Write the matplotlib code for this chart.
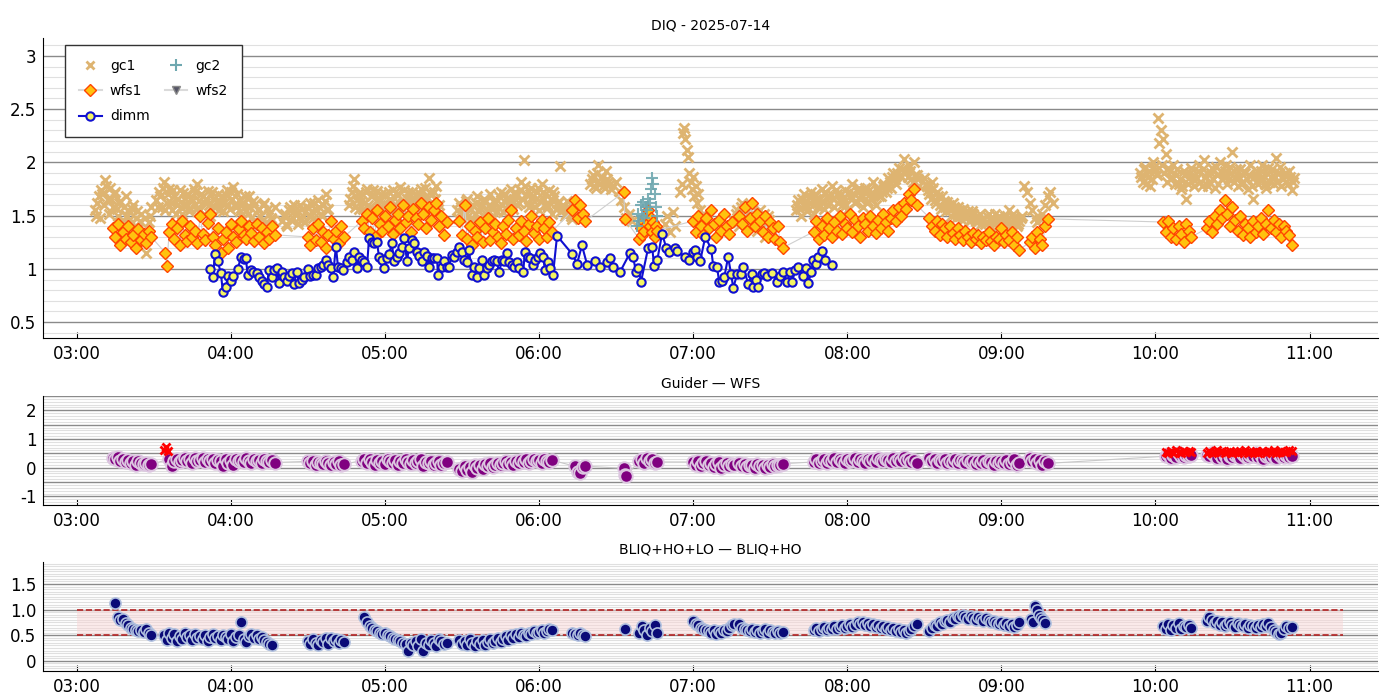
import datetime as dt
import matplotlib
matplotlib.use("Agg")
import matplotlib.pyplot as plt
import matplotlib.dates as mdates
from matplotlib.ticker import MultipleLocator, FuncFormatter
from matplotlib.lines import Line2D

# minutes after 03:00 UT, 2025-07-14
# each segment: (start minute, step minutes, values)
gc1_segs = [
    (7, 1, [1.55, 1.62, 1.48, 1.70, 1.83, 1.66, 1.76, 1.58, 1.72, 1.50, 1.64, 1.46, 1.68, 1.55, 1.42,
            1.60, 1.48, 1.38, 1.52, 1.35, 1.15, 1.44, 1.58]),
    (31, 1, [1.65, 1.72, 1.58, 1.82, 1.62, 1.75, 1.55, 1.68, 1.60, 1.74, 1.52, 1.66, 1.70, 1.57, 1.64,
             1.72, 1.80, 1.55, 1.68, 1.62, 1.73, 1.50, 1.66, 1.58, 1.70, 1.63, 1.54, 1.69, 1.60, 1.72,
             1.77, 1.58, 1.65, 1.50, 1.62, 1.55, 1.68, 1.48, 1.60, 1.42, 1.56, 1.45, 1.62, 1.40, 1.52,
             1.46, 1.58]),
    (80, 1, [1.45, 1.52, 1.40, 1.58, 1.48, 1.55, 1.42, 1.60, 1.50, 1.44, 1.57, 1.62, 1.48, 1.55, 1.65,
             1.52, 1.60, 1.70, 1.56]),
    (106, 1, [1.60, 1.72, 1.84, 1.65, 1.56, 1.70, 1.62, 1.75, 1.58, 1.68, 1.52, 1.73, 1.64, 1.57, 1.70,
              1.60, 1.66, 1.74, 1.55, 1.69, 1.77, 1.62, 1.58, 1.72, 1.65, 1.54, 1.70, 1.63, 1.75, 1.58,
              1.68, 1.85, 1.62, 1.72, 1.78, 1.60]),
    (148, 1, [1.55, 1.62, 1.48, 1.58, 1.66, 1.45, 1.60, 1.52, 1.68, 1.57, 1.50, 1.63, 1.55, 1.70, 1.48,
              1.62, 1.58, 1.72, 1.53, 1.66, 1.60, 1.75, 1.56, 1.68, 1.62, 1.82, 2.02, 1.70, 1.58, 1.76,
              1.64, 1.72, 1.55, 1.80, 1.66, 1.60, 1.74, 1.52, 1.68, 1.62, 1.97, 1.58, 1.50, 1.64, 1.55,
              1.47, 1.60]),
    (200, 1, [1.80, 1.88, 1.76, 1.98, 1.85, 1.78, 1.92, 1.82, 1.75]),
    (210, 1, [1.82, 1.73, 1.65, 1.58, 1.48, 1.52, 1.45]),
    (229, 1, [1.42, 1.50, 1.35, 1.53, 1.40]),
    (235, 0.5, [1.72, 1.80, 2.28, 2.32, 2.22, 2.12, 2.05, 1.90, 1.82, 1.75, 1.86, 1.68, 1.78, 1.62, 1.70,
                1.55, 1.50]),
    (256, 1, [1.45, 1.55, 1.40, 1.62, 1.50, 1.58, 1.42, 1.52, 1.48, 1.36, 1.55, 1.45, 1.30, 1.50, 1.40]),
    (280, 1, [1.55, 1.65, 1.50, 1.70, 1.58, 1.62, 1.72, 1.52, 1.66, 1.60, 1.75, 1.56, 1.68, 1.63, 1.78,
              1.58, 1.70, 1.65, 1.60, 1.74, 1.55, 1.68, 1.80, 1.62, 1.72, 1.66, 1.58, 1.76, 1.64, 1.70,
              1.82, 1.60, 1.73, 1.68, 1.78, 1.72, 1.85, 1.76, 1.90, 1.80, 1.95, 1.86, 2.03, 1.92, 1.98,
              1.84, 2.00, 1.88, 1.78]),
    (330, 1, [1.85, 1.78, 1.70, 1.82, 1.65, 1.72, 1.60, 1.68, 1.58, 1.63, 1.55, 1.62, 1.52, 1.58, 1.50,
              1.56, 1.48, 1.54, 1.46, 1.52, 1.45, 1.50, 1.42, 1.48, 1.44, 1.52, 1.40, 1.47, 1.43, 1.50,
              1.41, 1.46, 1.44, 1.55, 1.42, 1.48, 1.40, 1.45, 1.50]),
    (369, 1, [1.78, 1.72, 1.62, 1.55, 1.48, 1.44, 1.47, 1.52, 1.60, 1.68, 1.72, 1.62]),
    (414, 1, [1.90, 1.82, 1.96, 1.86, 1.78, 2.00, 1.92, 2.42, 2.30, 2.22, 2.08, 1.95, 1.84, 1.98, 1.88,
              1.80, 1.75, 1.92, 1.66, 1.85, 1.95, 1.78]),
    (436, 1, [1.85, 1.98, 1.78, 2.02, 1.90, 1.82, 1.95, 1.76, 1.88, 2.00, 1.84, 1.92, 1.80, 1.96, 2.10,
              1.86, 1.78, 1.94, 1.82, 1.90, 1.75, 1.98, 1.66, 1.88, 1.80, 1.92, 1.84, 1.76, 1.95, 1.86,
              1.80, 2.04, 1.90, 1.78, 1.88, 1.82, 1.92, 1.74, 1.85]),
]
# second, interleaved batch of gc1 frames (half a minute later)
gc1_segs_b = [
    (7.5, 1, [1.50, 1.68, 1.74, 1.60, 1.78, 1.52, 1.66, 1.70, 1.56, 1.62, 1.44, 1.58, 1.50, 1.46, 1.56,
              1.40, 1.54, 1.45, 1.30, 1.48, 1.32, 1.50]),
    (31.5, 1, [1.58, 1.68, 1.76, 1.55, 1.70, 1.62, 1.74, 1.52, 1.66, 1.58, 1.71, 1.60, 1.54, 1.67, 1.75,
               1.56, 1.64, 1.70, 1.52, 1.66, 1.60, 1.72, 1.58, 1.64, 1.55, 1.68, 1.62, 1.74, 1.56, 1.66,
               1.60, 1.70, 1.54, 1.62, 1.68, 1.52, 1.58, 1.64, 1.46, 1.55, 1.50, 1.60, 1.44, 1.56, 1.48]),
    (80.5, 1, [1.50, 1.42, 1.55, 1.46, 1.60, 1.52, 1.48, 1.56, 1.44, 1.58, 1.50, 1.54, 1.62, 1.46, 1.58,
               1.50, 1.64, 1.55]),
    (106.5, 1, [1.66, 1.78, 1.58, 1.70, 1.64, 1.56, 1.72, 1.60, 1.68, 1.74, 1.56, 1.66, 1.70, 1.62, 1.58,
                1.72, 1.64, 1.60, 1.70, 1.62, 1.56, 1.74, 1.66, 1.60, 1.72, 1.64, 1.58, 1.70, 1.62, 1.76,
                1.66, 1.72, 1.60, 1.66, 1.56]),
    (148.5, 1, [1.48, 1.58, 1.52, 1.64, 1.50, 1.56, 1.46, 1.62, 1.54, 1.60, 1.66, 1.52, 1.60, 1.56, 1.64,
                1.54, 1.68, 1.60, 1.70, 1.56, 1.66, 1.62, 1.72, 1.60, 1.74, 1.66, 1.78, 1.62, 1.70, 1.68,
                1.58, 1.76, 1.64, 1.72, 1.70, 1.58, 1.66, 1.72, 1.56, 1.62, 1.54, 1.60, 1.52, 1.58, 1.50,
                1.56]),
    (200.5, 1, [1.84, 1.78, 1.90, 1.80, 1.86, 1.76, 1.84, 1.80]),
    (256.5, 1, [1.52, 1.44, 1.58, 1.46, 1.55, 1.48, 1.60, 1.42, 1.50, 1.45, 1.38, 1.52, 1.44, 1.46]),
    (280.5, 1, [1.60, 1.56, 1.66, 1.62, 1.54, 1.68, 1.60, 1.70, 1.58, 1.66, 1.62, 1.72, 1.60, 1.70, 1.66,
                1.74, 1.62, 1.70, 1.66, 1.60, 1.72, 1.66, 1.70, 1.64, 1.76, 1.68, 1.72, 1.62, 1.74, 1.66,
                1.70, 1.76, 1.68, 1.72, 1.80, 1.76, 1.82, 1.86, 1.84, 1.90, 1.88, 1.94, 1.90, 1.86, 1.92,
                1.82, 1.88, 1.84]),
    (330.5, 1, [1.80, 1.74, 1.66, 1.76, 1.62, 1.68, 1.56, 1.64, 1.54, 1.60, 1.50, 1.58, 1.48, 1.55, 1.46,
                1.52, 1.50, 1.45, 1.54, 1.48, 1.44, 1.52, 1.46, 1.42, 1.50, 1.46, 1.44, 1.52, 1.45, 1.48,
                1.42, 1.50, 1.46, 1.44, 1.52, 1.45, 1.42, 1.48]),
    (414.5, 1, [1.86, 1.94, 1.80, 1.92, 1.84, 1.96, 1.88, 2.18, 1.98, 1.90, 1.82, 1.92, 1.86, 1.80, 1.94,
                1.84, 1.78, 1.88, 1.80, 1.90, 1.84]),
    (436.5, 1, [1.92, 1.82, 1.94, 1.86, 1.78, 1.90, 1.84, 1.96, 1.80, 1.92, 1.86, 1.98, 1.84, 1.90, 1.82,
                1.94, 1.86, 1.80, 1.92, 1.84, 1.88, 1.78, 1.86, 1.92, 1.84, 1.98, 1.80, 1.90, 1.82, 1.94,
                1.86, 1.82, 1.96, 1.84, 1.90, 1.80, 1.86, 1.82]),
]

gc2_segs = [
    (218, 0.5, [1.40, 1.52, 1.45, 1.60, 1.50, 1.63, 1.48, 1.58, 1.55, 1.66, 1.62, 1.75, 1.85, 1.80, 1.70,
                1.58, 1.50]),
]

wfs1_segs = [
    (14, 1, [1.38, 1.30, 1.42, 1.22, 1.35, 1.28, 1.40, 1.25, 1.32, 1.20, 1.37, 1.27, 1.33, 1.24, 1.36, 1.30]),
    (34.5, 0.5, [1.15, 1.03]),
    (36, 1, [1.35, 1.42, 1.28, 1.38, 1.22, 1.45, 1.32, 1.26, 1.40, 1.30, 1.36, 1.24, 1.50, 1.33, 1.27,
             1.43, 1.52, 1.30, 1.22, 1.38, 1.15, 1.28, 1.35, 1.20, 1.42, 1.30, 1.25, 1.37, 1.45, 1.32,
             1.28, 1.40, 1.34, 1.26, 1.42, 1.30, 1.38, 1.24, 1.35, 1.28, 1.40, 1.32]),
    (90, 1, [1.30, 1.22, 1.38, 1.27, 1.42, 1.25, 1.35, 1.20, 1.32, 1.45, 1.28, 1.36, 1.24, 1.40, 1.30]),
    (111, 1, [1.45, 1.38, 1.52, 1.35, 1.48, 1.30, 1.55, 1.42, 1.36, 1.50, 1.40, 1.58, 1.33, 1.46, 1.52,
              1.38, 1.60, 1.44, 1.50, 1.35, 1.56, 1.48, 1.42, 1.62, 1.52, 1.38, 1.58, 1.46, 1.55, 1.62,
              1.40, 1.50, 1.32, 1.44]),
    (149, 1, [1.45, 1.32, 1.60, 1.28, 1.40, 1.22, 1.36, 1.30, 1.44, 1.25, 1.38, 1.48, 1.27, 1.35, 1.42,
              1.30, 1.24, 1.40, 1.33, 1.46, 1.55, 1.28, 1.38, 1.32, 1.45, 1.36, 1.26, 1.42, 1.50, 1.34,
              1.40, 1.28, 1.46, 1.38, 1.30, 1.44, 1.35]),
    (193, 1, [1.55, 1.65, 1.48, 1.60, 1.52, 1.45]),
    (213, 0.4, [1.72, 1.47]),
    (219, 0.5, [1.28, 1.38, 1.32, 1.45, 1.36, 1.50, 1.42, 1.55, 1.40, 1.48, 1.35, 1.44, 1.30, 1.40, 1.36]),
    (240, 1, [1.45, 1.35, 1.50, 1.40, 1.32, 1.48, 1.38, 1.55, 1.42, 1.30, 1.46, 1.36, 1.52, 1.40, 1.33, 1.44]),
    (258, 1, [1.50, 1.42, 1.58, 1.36, 1.48, 1.62, 1.40, 1.52, 1.45, 1.35, 1.50, 1.30, 1.44, 1.38, 1.28,
              1.40, 1.25, 1.20]),
    (287, 1, [1.35, 1.45, 1.28, 1.40, 1.32, 1.48, 1.38, 1.30, 1.44, 1.36, 1.50, 1.33, 1.42, 1.38, 1.52,
              1.35, 1.46, 1.40, 1.30, 1.48, 1.42, 1.36, 1.50, 1.40, 1.34, 1.46, 1.38, 1.52, 1.44, 1.36,
              1.48, 1.55, 1.45, 1.58, 1.50, 1.62, 1.56, 1.70, 1.65, 1.75, 1.60]),
    (332, 1, [1.48, 1.40, 1.36, 1.45, 1.32, 1.42, 1.38, 1.30, 1.40, 1.34, 1.28, 1.38, 1.32, 1.27, 1.36,
              1.30, 1.25, 1.34, 1.28, 1.32, 1.24, 1.30, 1.27, 1.35, 1.26, 1.22, 1.30, 1.28, 1.38, 1.25,
              1.32, 1.27, 1.35, 1.22, 1.30, 1.18]),
    (371, 1, [1.25, 1.30, 1.20, 1.35, 1.28, 1.22, 1.40, 1.47]),
    (423, 1, [1.44, 1.35, 1.45, 1.30, 1.38, 1.28, 1.40, 1.33, 1.25, 1.42, 1.36, 1.30]),
    (440, 1, [1.38, 1.45, 1.35, 1.50, 1.42, 1.55, 1.48, 1.65, 1.52, 1.40, 1.58, 1.46, 1.36, 1.50, 1.32,
              1.42, 1.38, 1.30, 1.45, 1.35, 1.40, 1.48, 1.33, 1.42, 1.55, 1.38, 1.46, 1.35, 1.42, 1.30,
              1.40, 1.36, 1.32, 1.22]),
]

dimm_t = [51.8, 53.0, 53.8, 54.9, 56.1, 56.9, 58.1, 58.8, 60.0, 60.8, 62.7, 63.9, 65.1, 65.8, 66.6,
          67.8, 68.6, 70.1, 70.9, 72.1, 72.9, 74.0, 74.8, 76.0, 76.7, 77.9, 78.7, 79.9, 80.6, 81.8,
          82.6, 83.8, 84.5, 85.7, 86.5, 87.7, 88.4, 90.0, 90.8, 91.9, 93.1, 93.9, 95.1, 95.8, 97.0,
          97.8, 99.0, 99.7, 100.9, 101.7, 102.9, 103.6, 105.2, 106.0, 107.1, 107.9, 109.1, 109.9, 111.0, 111.8,
          113.0, 113.8, 114.9, 115.7, 116.9, 117.7, 118.8, 119.6, 120.8, 121.6, 122.7, 123.5, 124.7, 125.4, 126.6,
          127.4, 128.6, 129.3, 130.5, 131.3, 132.5, 133.2, 134.4, 135.2, 136.4, 137.1, 138.3, 139.1, 140.3, 140.6,
          142.2, 143.0, 144.2, 144.9, 146.1, 146.9, 148.0, 148.8, 150.0, 150.8, 151.9, 152.7, 153.9, 154.7, 155.8,
          156.6, 157.8, 158.6, 159.7, 160.5, 161.7, 162.5, 163.6, 164.4, 165.6, 166.4, 167.5, 168.3, 169.5, 170.3,
          171.4, 172.2, 173.8, 174.5, 175.7, 176.5, 177.7, 178.4, 179.6, 180.4, 181.6, 182.3, 183.5, 184.3, 185.4,
          187.0, 192.9, 194.8, 196.7, 198.7, 201.8, 203.8, 206.5, 207.7, 208.8, 211.5, 215.4, 216.6, 217.8, 218.6,
          219.7, 222.5, 224.0, 224.8, 226.0, 227.9, 229.5, 230.6, 233.0, 233.8, 236.9, 238.4, 240.0, 240.8, 241.5,
          242.7, 244.7, 247.0, 247.8, 249.3, 250.1, 251.3, 252.1, 253.6, 254.8, 255.6, 257.1, 258.7, 259.5, 261.4,
          263.0, 263.4, 264.5, 265.3, 266.9, 267.7, 268.8, 270.8, 272.7, 273.9, 275.1, 276.6, 277.8, 278.6, 279.7,
          280.9, 282.8, 284.0, 284.8, 286.0, 286.7, 287.9, 288.7, 290.3, 291.4, 294.1]
dimm_v = [1.00, 0.92, 1.14, 1.07, 0.96, 0.78, 0.83, 0.93, 0.89, 0.93, 1.00, 1.11, 1.09, 1.10, 0.94,
          0.99, 0.97, 0.96, 0.92, 0.89, 0.86, 0.83, 0.99, 0.92, 0.99, 1.01, 0.87, 0.97, 0.92, 0.89,
          0.93, 0.96, 0.86, 0.97, 0.87, 0.90, 0.92, 1.00, 0.93, 0.94, 0.94, 1.01, 1.02, 1.04, 1.08,
          1.04, 1.01, 0.92, 1.21, 1.02, 1.01, 0.99, 1.06, 1.11, 1.08, 1.16, 1.01, 1.11, 1.08, 1.06,
          1.02, 1.29, 1.25, 1.24, 1.25, 1.11, 1.08, 1.01, 1.10, 1.14, 1.24, 1.07, 1.11, 1.15, 1.21,
          1.29, 1.07, 1.20, 1.27, 1.24, 1.16, 1.12, 1.07, 1.16, 1.12, 1.02, 1.10, 1.10, 1.10, 0.94,
          1.02, 1.07, 1.02, 1.02, 1.13, 1.11, 1.16, 1.21, 1.16, 1.08, 1.06, 1.18, 0.94, 1.02, 0.92,
          1.01, 1.08, 0.94, 1.01, 1.04, 1.07, 1.08, 1.07, 0.97, 1.08, 1.07, 1.15, 1.06, 1.04, 1.02,
          1.06, 1.01, 0.97, 1.16, 1.11, 1.10, 1.04, 1.08, 1.11, 1.15, 1.11, 0.99, 1.06, 1.01, 0.94,
          1.31, 1.14, 1.05, 1.22, 1.04, 1.07, 1.02, 1.06, 1.10, 1.02, 0.97, 1.15, 1.11, 0.97, 1.01,
          0.88, 1.20, 1.21, 1.03, 1.08, 1.33, 1.20, 1.16, 1.20, 1.17, 1.11, 1.08, 1.16, 1.18, 1.11,
          1.07, 1.30, 1.19, 1.03, 1.02, 0.88, 0.89, 0.92, 1.11, 0.95, 0.82, 0.95, 0.95, 1.02, 0.86,
          0.95, 0.83, 0.90, 0.83, 0.95, 0.96, 0.93, 0.96, 0.88, 0.93, 0.97, 0.88, 0.97, 0.88, 0.99,
          1.02, 0.93, 1.01, 0.87, 0.97, 1.08, 1.05, 1.11, 1.17, 1.08, 1.04]

# Guider - WFS
gw_segs = [
    (14, 1, [0.35, 0.30, 0.38, 0.25, 0.32, 0.20, 0.28, 0.15, 0.25, 0.10, 0.22, 0.15, 0.12, 0.18, 0.08, 0.12]),
    (36, 1, [0.30, 0.05, 0.25, 0.32, 0.20, 0.28, 0.35, 0.22, 0.30, 0.18, 0.33, 0.25, 0.28, 0.35, 0.20,
             0.30, 0.24, 0.32, 0.15, 0.28, 0.22, 0.05, 0.30, 0.18, 0.26, 0.10, 0.32, 0.24, 0.28, 0.20,
             0.35, 0.25, 0.18, 0.30, 0.22, 0.27, 0.15, 0.32, 0.24, 0.20, 0.28, 0.18]),
    (90, 1, [0.22, 0.15, 0.25, 0.10, 0.20, 0.18, 0.12, 0.25, 0.15, 0.08, 0.20, 0.14, 0.22, 0.10, 0.12]),
    (111, 1, [0.25, 0.30, 0.15, 0.32, 0.20, 0.08, 0.28, 0.18, 0.25, 0.12, 0.30, 0.22, 0.15, 0.28, 0.10,
              0.25, 0.18, 0.32, 0.20, 0.12, 0.26, 0.15, 0.22, 0.30, 0.05, 0.20, 0.15, 0.25, 0.10, 0.18,
              0.22, 0.08, 0.15, 0.20]),
    (149, 1, [-0.05, -0.12, 0.05, -0.08, 0.02, -0.15, 0.08, 0.00, 0.10, -0.05, 0.12, 0.05, 0.15, 0.02, 0.10,
              0.18, 0.08, 0.15, 0.22, 0.12, 0.20, 0.10, 0.25, 0.15, 0.28, 0.20, 0.30, 0.18, 0.25, 0.32,
              0.22, 0.28, 0.15, 0.30, 0.24, 0.20, 0.26]),
    (194, 1, [0.05, -0.15, -0.20, 0.02, 0.05]),
    (213, 0.5, [-0.02, -0.25, -0.30]),
    (219, 1, [0.25, 0.32, 0.18, 0.35, 0.22, 0.30, 0.15, 0.20]),
    (240, 1, [0.20, 0.10, 0.25, 0.05, 0.15, 0.22, 0.08, 0.18, 0.02, 0.12, 0.20, -0.02, 0.10, 0.15, 0.05,
              0.12, 0.08]),
    (258, 1, [0.15, 0.05, 0.12, 0.02, 0.10, 0.08, 0.00, 0.12, 0.05, 0.10, -0.02, 0.08, 0.04, 0.12, 0.06,
              0.10, 0.08, 0.14]),
    (287, 1, [0.20, 0.30, 0.15, 0.25, 0.32, 0.18, 0.28, 0.22, 0.35, 0.20, 0.30, 0.25, 0.15, 0.32, 0.22,
              0.28, 0.35, 0.20, 0.30, 0.25, 0.18, 0.32, 0.24, 0.30, 0.20, 0.35, 0.26, 0.22, 0.32, 0.28,
              0.20, 0.34, 0.25, 0.30, 0.22, 0.36, 0.28, 0.32, 0.20, 0.26, 0.18]),
    (332, 1, [0.35, 0.25, 0.30, 0.18, 0.28, 0.22, 0.32, 0.15, 0.25, 0.20, 0.30, 0.18, 0.26, 0.22, 0.15,
              0.28, 0.20, 0.25, 0.12, 0.22, 0.18, 0.28, 0.15, 0.24, 0.20, 0.10, 0.25, 0.18, 0.22, 0.15,
              0.28, 0.12, 0.20, 0.30, 0.08, 0.15]),
    (371, 1, [0.35, 0.25, 0.32, 0.15, 0.28, 0.10, 0.22, 0.15]),
    (424, 1, [0.40, 0.48, 0.35, 0.45, 0.38, 0.50, 0.42, 0.36, 0.46, 0.40, 0.44]),
    (440, 1, [0.45, 0.40, 0.50, 0.42, 0.35, 0.48, 0.38, 0.45, 0.32, 0.42, 0.36, 0.46, 0.40, 0.34, 0.48,
              0.42, 0.38, 0.45, 0.40, 0.50, 0.36, 0.44, 0.32, 0.40, 0.46, 0.38, 0.42, 0.35, 0.48, 0.40,
              0.36, 0.44, 0.38, 0.42]),
]
gw_high_segs = [
    (34, 0.7, [0.62, 0.72, 0.58]),
    (424, 1, [0.55, 0.50, 0.58, 0.52, 0.60, 0.54, 0.50, 0.57, 0.53, 0.59, 0.55]),
    (440, 1, [0.52, 0.58, 0.50, 0.55, 0.60, 0.53, 0.57, 0.51, 0.56, 0.59, 0.52, 0.55, 0.50, 0.58, 0.54,
              0.60, 0.52, 0.56, 0.53, 0.58, 0.50, 0.55, 0.59, 0.52, 0.57, 0.54, 0.60, 0.51, 0.56, 0.58,
              0.53, 0.55, 0.60, 0.57]),
]

# BLIQ+HO+LO - BLIQ+HO
bl_segs = [
    (15, 1, [1.12, 0.86, 0.80, 0.82, 0.74, 0.70, 0.65, 0.62, 0.60, 0.58, 0.60, 0.56, 0.62, 0.55, 0.50]),
    (34, 1, [0.50, 0.40, 0.55, 0.45, 0.52, 0.38, 0.48, 0.42, 0.55, 0.46, 0.50, 0.40, 0.52, 0.45, 0.48,
             0.42, 0.50, 0.38, 0.46, 0.52, 0.44, 0.48, 0.40, 0.50, 0.46, 0.42, 0.52, 0.38, 0.46, 0.50,
             0.75, 0.42, 0.36, 0.48, 0.52, 0.45, 0.50, 0.42, 0.46, 0.40, 0.36, 0.32, 0.30]),
    (90, 1, [0.38, 0.32, 0.42, 0.35, 0.30, 0.40, 0.36, 0.44, 0.33, 0.45, 0.38, 0.42, 0.35, 0.40, 0.37]),
    (112, 1, [0.85, 0.75, 0.68, 0.65, 0.60, 0.58, 0.55, 0.52, 0.55, 0.50, 0.48, 0.45, 0.42, 0.40, 0.38,
              0.35, 0.32, 0.20, 0.35, 0.30, 0.38, 0.28, 0.42, 0.20, 0.35, 0.30, 0.40, 0.35, 0.28, 0.42,
              0.38, 0.33, 0.35]),
    (149, 1, [0.40, 0.32, 0.38, 0.30, 0.42, 0.35, 0.28, 0.38, 0.33, 0.40, 0.30, 0.36, 0.42, 0.34, 0.38,
              0.45, 0.36, 0.42, 0.48, 0.40, 0.50, 0.45, 0.52, 0.46, 0.55, 0.50, 0.48, 0.55, 0.52, 0.58,
              0.54, 0.56, 0.60, 0.55, 0.58, 0.62, 0.60]),
    (193, 1, [0.55, 0.52, 0.50, 0.54, 0.50, 0.48]),
    (213.5, 1, [0.62]),
    (219, 1, [0.55, 0.68, 0.60, 0.50, 0.65, 0.58, 0.70, 0.55]),
    (240, 1, [0.78, 0.72, 0.70, 0.65, 0.62, 0.60, 0.58, 0.55, 0.60, 0.52, 0.58, 0.55, 0.60, 0.58, 0.65,
              0.70, 0.72]),
    (258, 1, [0.72, 0.65, 0.62, 0.60, 0.58, 0.62, 0.56, 0.60, 0.55, 0.58, 0.62, 0.55, 0.60, 0.57, 0.54,
              0.58, 0.55, 0.57]),
    (287, 1, [0.60, 0.65, 0.58, 0.62, 0.66, 0.60, 0.64, 0.62, 0.68, 0.63, 0.66, 0.70, 0.65, 0.68, 0.72,
              0.66, 0.70, 0.75, 0.72, 0.76, 0.70, 0.74, 0.68, 0.72, 0.66, 0.70, 0.64, 0.68, 0.62, 0.66,
              0.60, 0.64, 0.58, 0.62, 0.56, 0.60, 0.55, 0.58, 0.62, 0.68, 0.72]),
    (332, 1, [0.58, 0.65, 0.70, 0.68, 0.75, 0.72, 0.78, 0.80, 0.76, 0.84, 0.82, 0.88, 0.85, 0.90, 0.86,
              0.82, 0.88, 0.84, 0.80, 0.86, 0.82, 0.78, 0.84, 0.80, 0.76, 0.78, 0.74, 0.72, 0.76, 0.70,
              0.74, 0.68, 0.72, 0.66, 0.70, 0.75]),
    (371.5, 0.8, [0.82, 0.75, 1.08, 1.00, 0.90, 0.84, 0.80, 0.73]),
    (423, 1, [0.68, 0.62, 0.72, 0.60, 0.70, 0.64, 0.74, 0.62, 0.68, 0.66, 0.70, 0.65]),
    (440, 1, [0.78, 0.85, 0.80, 0.74, 0.78, 0.70, 0.75, 0.68, 0.72, 0.76, 0.70, 0.66, 0.74, 0.70, 0.68,
              0.72, 0.65, 0.70, 0.68, 0.64, 0.70, 0.66, 0.72, 0.68, 0.74, 0.66, 0.60, 0.56, 0.52, 0.55,
              0.62, 0.68, 0.64, 0.66]),
]

band_lo, band_hi = 0.5, 1.0
band_start, band_end = 0, 493   # minutes after 03:00

t0 = dt.datetime(2025, 7, 14, 3, 0)


def tm(m):
    return t0 + dt.timedelta(minutes=m)


def expand(segs):
    xs, ys = [], []
    for start, step, vals in segs:
        for i, v in enumerate(vals):
            xs.append(tm(start + step * i))
            ys.append(v)
    return xs, ys


gc1_x, gc1_y = expand(gc1_segs + gc1_segs_b)
gc2_x, gc2_y = expand(gc2_segs)
wfs1_x, wfs1_y = expand(wfs1_segs)
dimm_x = [tm(m) for m in dimm_t]
gw_x, gw_y = expand(gw_segs)
gwh_x, gwh_y = expand(gw_high_segs)
bl_x, bl_y = expand(bl_segs)

plt.rcParams['font.family'] = 'DejaVu Sans'
fig = plt.figure(figsize=(14, 7), dpi=100)
ax1 = fig.add_axes([0.031, 0.517, 0.953, 0.429])
ax2 = fig.add_axes([0.031, 0.2786, 0.953, 0.1557])
ax3 = fig.add_axes([0.031, 0.0414, 0.953, 0.1557])


def style(ax, major, minor, fmt):
    for s in ['top', 'right']:
        ax.spines[s].set_visible(False)
    ax.set_axisbelow(True)
    ax.yaxis.set_major_locator(MultipleLocator(major))
    ax.yaxis.set_minor_locator(MultipleLocator(minor))
    ax.yaxis.set_major_formatter(FuncFormatter(fmt))
    ax.grid(True, which='major', axis='y', color='#8a8a8a', lw=1.0)
    ax.grid(True, which='minor', axis='y', color='#e0e0e0', lw=0.8)
    ax.tick_params(axis='y', which='both', length=0, labelsize=12, pad=5)
    ax.tick_params(axis='x', direction='in', length=4, labelsize=12, pad=5)
    ax.xaxis.set_major_locator(mdates.HourLocator())
    ax.xaxis.set_major_formatter(mdates.DateFormatter('%H:%M'))
    ax.set_xlim(tm(-13), tm(506.5))


# --- top: DIQ
ax1.plot(gc1_x, gc1_y, ls='none', marker='x', ms=6.5, mew=2, color='#DEB471', zorder=2)
ax1.plot(wfs1_x, wfs1_y, color='#cfcfcf', lw=0.8, marker='D', ms=6.5, mfc='#FFC20E',
         mec='#FF4500', mew=1, zorder=3)
ax1.plot(gc2_x, gc2_y, ls='none', marker='+', ms=8, mew=1.5, color='#6FA8B0', alpha=0.9, zorder=4)
ax1.plot(dimm_x, dimm_v, color='#1010D0', lw=1.5, marker='o', ms=6, mfc='#F5F562',
         mec='#1010D0', mew=1.5, zorder=5)
style(ax1, 0.5, 0.1, lambda v, p: f'{v:g}')
ax1.set_ylim(0.35, 3.17)
ax1.set_title('DIQ - 2025-07-14', fontsize=10)

handles = [
    Line2D([], [], ls='none', marker='x', ms=6, mew=2, color='#DEB471'),
    Line2D([], [], color='#dadada', lw=1.5, marker='D', ms=6, mfc='#FFC20E', mec='#FF4500'),
    Line2D([], [], color='#1010D0', lw=1.5, marker='o', ms=6, mfc='#F5F562', mec='#1010D0', mew=1.5),
    Line2D([], [], ls='none', marker='+', ms=8, mew=1.5, color='#6FA8B0'),
    Line2D([], [], color='#dadada', lw=1.5, marker='v', ms=6, mfc='#555566', mec='#888888'),
]
leg = ax1.legend(handles, ['gc1', 'wfs1', 'dimm', 'gc2', 'wfs2'], ncol=2, loc='upper left',
                 bbox_to_anchor=(0.0113, 0.998), fancybox=False, framealpha=1, edgecolor='#333333',
                 fontsize=10, borderpad=1.0, labelspacing=0.8, columnspacing=1.1,
                 handlelength=1.6, handletextpad=0.6)
leg.get_frame().set_linewidth(1.0)

# --- middle: Guider - WFS
ax2.plot(gw_x, gw_y, color='#c8c8c8', lw=0.8, marker='o', ms=9, mfc='#800080', mec='#DCC6E0',
         mew=1.4, zorder=3)
ax2.plot(gwh_x, gwh_y, ls='none', marker='x', ms=6, mew=2, color='red', zorder=4)
style(ax2, 0.5, 0.1, lambda v, p: f'{v:.0f}' if abs(v - round(v)) < 1e-6 else '')
ax2.set_ylim(-1.3, 2.5)
ax2.set_title('Guider — WFS', fontsize=10)

# --- bottom: BLIQ+HO+LO - BLIQ+HO
ax3.fill_between([tm(band_start), tm(band_end)], band_lo, band_hi, color='#F9D6D6', alpha=0.5,
                 lw=0, zorder=1)
ax3.plot([tm(band_start), tm(band_end)], [band_lo, band_lo], color='#B22222', ls='--', lw=1.2, zorder=2)
ax3.plot([tm(band_start), tm(band_end)], [band_hi, band_hi], color='#B22222', ls='--', lw=1.2, zorder=2)
ax3.plot(bl_x, bl_y, ls='none', marker='o', ms=8, mfc='#0A0A78', mec='#B0C0DE', mew=1.2, zorder=3)
style(ax3, 0.5, 0.05, lambda v, p: '0' if abs(v) < 1e-6 else f'{v:.1f}')
ax3.set_ylim(-0.2, 1.93)
ax3.set_title('BLIQ+HO+LO — BLIQ+HO', fontsize=10)

fig.savefig('out.png', dpi=100)
